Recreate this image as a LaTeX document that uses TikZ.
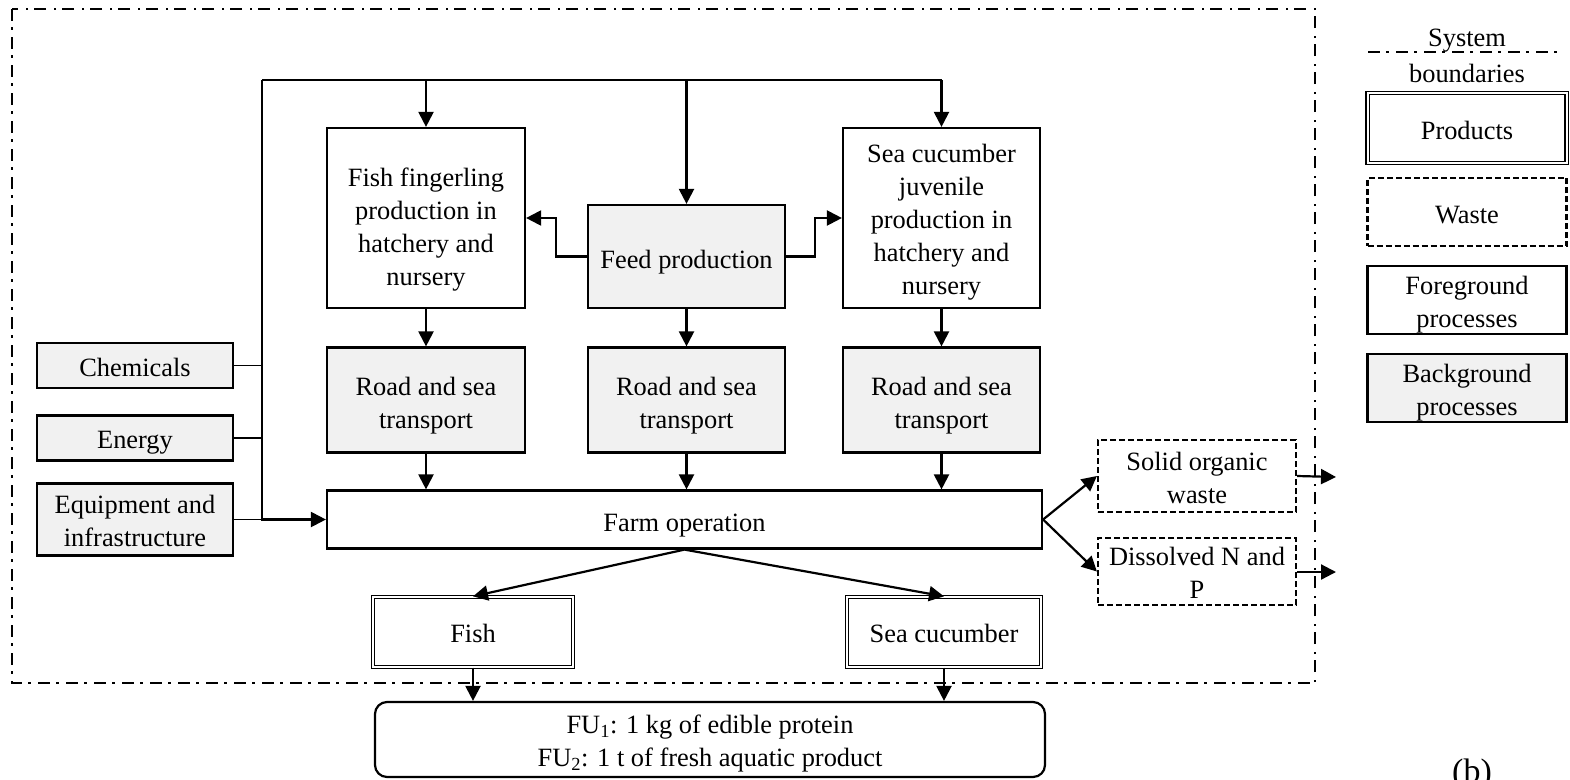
\documentclass[tikz,border=0pt]{standalone}
\usepackage{fontspec}
\setmainfont{Liberation Serif}
\usetikzlibrary{arrows.meta}
\definecolor{bggray}{HTML}{F1F1F1}
\newcommand{\boxtext}[2][5pt]{\raisebox{0pt}[\dimexpr\height+#1\relax][\dimexpr\depth-#1\relax]{\begin{tabular}{@{}c@{}}#2\end{tabular}}}
\tikzset{
  box/.style={draw, line width=2.2pt, align=center, inner sep=0pt, font=\fontsize{26.4}{33}\selectfont},
  bgbox/.style={box, fill=bggray},
  prodbox/.style={box, double, double distance=2pt, line width=1.3pt},
  wastebox/.style={box, dash pattern=on 6pt off 3pt},
  arr/.style={line width=2.2pt, -{Triangle[length=15pt,width=15pt]}},
  ln/.style={line width=2.2pt},
  thinln/.style={line width=1.4pt},
  bound/.style={line width=2.5pt, dash pattern=on 12pt off 6pt on 2.5pt off 7.5pt},
}
\begin{document}
\begin{tikzpicture}[x=1pt,y=-1pt]
\useasboundingbox (0,0) rectangle (1570,779);
% system boundary
\draw[bound] (12,9) rectangle (1315,683);

% process nodes
\node[box, minimum width=198, minimum height=180] (fishfing) at (426,218) {\boxtext[11pt]{Fish fingerling\\production in\\hatchery and\\nursery}};
\node[bgbox, minimum width=197, minimum height=103] (feed) at (686.5,256.5) {\boxtext{Feed production}};
\node[box, minimum width=197, minimum height=180] (seacuc) at (941.5,218) {\boxtext[4pt]{Sea cucumber\\juvenile\\production in\\hatchery and\\nursery}};
\node[bgbox, minimum width=198, minimum height=105] (road1) at (426,400) {\boxtext{Road and sea\\transport}};
\node[bgbox, minimum width=197, minimum height=105] (road2) at (686.5,400) {\boxtext{Road and sea\\transport}};
\node[bgbox, minimum width=197, minimum height=105] (road3) at (941.5,400) {\boxtext{Road and sea\\transport}};
\node[box, minimum width=715, minimum height=58] (farm) at (684.5,519.5) {\boxtext{Farm operation}};
\node[bgbox, minimum width=196, minimum height=45] (chem) at (135,365.5) {\boxtext[4pt]{Chemicals}};
\node[bgbox, minimum width=196, minimum height=45] (energy) at (135,438) {\boxtext[4pt]{Energy}};
\node[bgbox, minimum width=196, minimum height=72] (equip) at (135,519.5) {\boxtext[4pt]{Equipment and\\infrastructure}};
\node[wastebox, minimum width=198, minimum height=72] (solid) at (1197,476) {\boxtext[4pt]{Solid organic\\waste}};
\node[wastebox, minimum width=198, minimum height=67] (dissolved) at (1197,571.5) {\boxtext[4pt]{Dissolved N and\\P}};
\node[prodbox, minimum width=200, minimum height=70] (fish) at (473,632) {\boxtext[4pt]{Fish}};
\node[prodbox, minimum width=194, minimum height=70] (cucumber) at (944,632) {\boxtext[4pt]{Sea cucumber}};
\node[box, rounded corners=12pt, minimum width=670, minimum height=75] (fu) at (710,739.5) {\boxtext[4pt]{FU\textsubscript{1}: 1 kg of edible protein\\FU\textsubscript{2}: 1 t of fresh aquatic product}};

% connectors
\coordinate (tl) at (262,80);
\coordinate (tr) at (941.5,80);
\draw[ln] (tl) -- (tr);
\draw[arr] (tl) -- (tl |- farm.west) -- (farm.west);
\draw[arr] (fishfing.north |- tl) -- (fishfing.north);
\draw[arr] (feed.north |- tl) -- (feed.north);
\draw[arr] (tr) -- (seacuc.north);
\draw[thinln] (chem.east) -- (chem.east -| tl);
\draw[thinln] (energy.east) -- (energy.east -| tl);
\draw[thinln] (equip.east) -- (equip.east -| tl);

\draw[arr] (feed.west) -- ++(-31,0) |- (fishfing.east);
\draw[arr] (feed.east) -- ++(29,0) |- (seacuc.west);

\draw[arr] (fishfing.south) -- (road1.north);
\draw[arr] (feed.south) -- (road2.north);
\draw[arr] (seacuc.south) -- (road3.north);
\draw[arr] (road1.south) -- (road1.south |- farm.north);
\draw[arr] (road2.south) -- (road2.south |- farm.north);
\draw[arr] (road3.south) -- (road3.south |- farm.north);

\draw[arr] (farm.east) -- (solid.west);
\draw[arr] (farm.east) -- (dissolved.west);
\coordinate (solidout) at (1336,477);
\coordinate (dissout) at (1336,572);
\draw[arr] (solid.east) -- (solidout);
\draw[arr] (dissolved.east |- dissout) -- (dissout);

\draw[arr] (farm.south) -- (fish.north);
\draw[arr] (farm.south) -- (cucumber.north);
\draw[arr] (fish.south) -- (fish.south |- fu.north);
\draw[arr] (cucumber.south) -- (cucumber.south |- fu.north);

% legend
\coordinate (lgl) at (1368,52);
\coordinate (lgr) at (1562,52);
\draw[bound] (lgl) -- (lgr);
\node[font=\fontsize{26.4}{33}\selectfont, inner sep=0pt] (lgsys) at (1467,41) {System};
\node[font=\fontsize{26.4}{33}\selectfont, inner sep=0pt] (lgbound) at (1467,73) {boundaries};
\node[prodbox, minimum width=199, minimum height=70] (lgprod) at (1467,128) {\boxtext{Products}};
\node[wastebox, minimum width=199, minimum height=68] (lgwaste) at (1467,212) {\boxtext{Waste}};
\node[box, minimum width=199, minimum height=68] (lgfore) at (1467,300) {\boxtext[4pt]{Foreground\\processes}};
\node[bgbox, minimum width=199, minimum height=68] (lgback) at (1467,388) {\boxtext[4pt]{Background\\processes}};

\node[font=\fontsize{34}{40}\selectfont, inner sep=0pt, anchor=north] (lbl) at (1472,759) {(b)};
\end{tikzpicture}
\end{document}
